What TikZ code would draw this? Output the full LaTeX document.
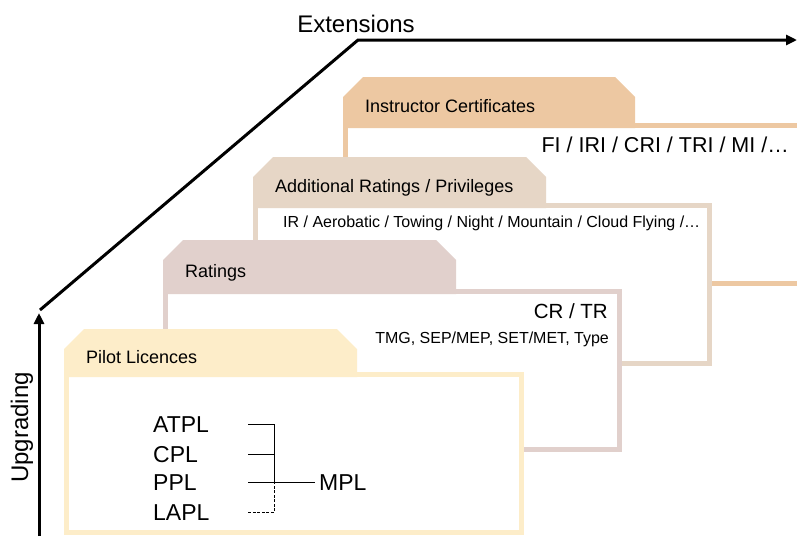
\documentclass[tikz,border=0pt]{standalone}
\usepackage{fontspec}
\setmainfont{Liberation Sans}
\usetikzlibrary{arrows.meta, positioning}

\definecolor{instrC}{HTML}{EDC8A2}
\definecolor{addlC}{HTML}{E6D6C6}
\definecolor{ratC}{HTML}{E1D0CC}
\definecolor{pilotC}{HTML}{FDEDC9}

\begin{document}
\begin{tikzpicture}[
    x=1pt, y=-1pt,
    >={Triangle[length=11pt, width=10pt]},
    axis/.style={line width=3pt},
    frame/.style={draw=#1, line width=5pt, fill=white},
    tab/.style={fill=#1},
    tabLabel/.style={font=\fontsize{18}{20}\selectfont, inner sep=0pt, anchor=base west},
    listText/.style={font=\fontsize{#1}{#1}\selectfont, inner sep=0pt},
    lic/.style={font=\fontsize{23}{26}\selectfont, inner sep=0pt, anchor=base west, text width=95pt, align=left},
    bracket/.style={line width=1.1pt}
]
\useasboundingbox (0,0) rectangle (797,536);

% ----------------------------------------------------
% Axes (Upgrading / Extensions)
% ----------------------------------------------------
\coordinate (Origin) at (39,536);
\coordinate (UpTip) at (39,313);
\coordinate (Bend) at (40,310);
\coordinate (Corner) at (358,40);
\coordinate (RightTip) at (797,40);

\draw[axis, ->] (Origin) -- (UpTip);
\draw[axis, ->] (Bend) -- (Corner) -- (RightTip);

\node[listText=24, anchor=base] (Ext) at (356,32) {Extensions};
\node[listText=24, anchor=base, rotate=90] (Upg) at (28,427.5) {Upgrading};

% ----------------------------------------------------
% Layer 4 (Instructor Certificates)
% ----------------------------------------------------
\draw[frame=instrC] (345.5,125.5) rectangle (805,283.5);
\fill[tab=instrC] (343,128) -- (343,97) -- (363,77) -- (615,77) -- (635,97) -- (635,128) -- cycle;

\node[tabLabel] (Instr) at (365,112.5) {Instructor Certificates};
\node[listText=21.5, anchor=base east] (InstrList) at (789,152) {FI / IRI / CRI / TRI / MI /…};

% ----------------------------------------------------
% Layer 3 (Additional Ratings / Privileges)
% ----------------------------------------------------
\draw[frame=addlC] (255.5,205.5) rectangle (709.5,363.5);
\fill[tab=addlC] (253,208) -- (253,177) -- (273,157) -- (526,157) -- (546,177) -- (546,208) -- cycle;

\node[tabLabel] (Addl) at (275,192) {Additional Ratings / Privileges};
\node[listText=16, anchor=base west] (AddlList) at (283,227) {IR / Aerobatic / Towing / Night / Mountain / Cloud Flying /…};

% ----------------------------------------------------
% Layer 2 (Ratings)
% ----------------------------------------------------
\draw[frame=ratC] (165.5,291.5) rectangle (619.5,449.5);
\fill[tab=ratC] (163,294) -- (163,260) -- (183,240) -- (436,240) -- (456,260) -- (456,294) -- cycle;

\node[tabLabel] (Rat) at (185,277) {Ratings};
\node[listText=20.5, anchor=base east] (RatCR) at (608,318) {CR / TR};
\node[listText=16, anchor=base east] (RatTMG) at (609,343) {TMG, SEP/MEP, SET/MET, Type};

% ----------------------------------------------------
% Layer 1 (Pilot Licences)
% ----------------------------------------------------
\draw[frame=pilotC] (66.5,374.5) rectangle (521.5,532.5);
\fill[tab=pilotC] (64,377) -- (64,349) -- (84,329) -- (337,329) -- (357,349) -- (357,377) -- cycle;

\node[tabLabel] (Pilot) at (86,363) {Pilot Licences};

\node[lic] (ATPL) at (153,432) {ATPL};
\node[lic] (CPL) at (153,462) {CPL};
\node[lic] (PPL) at (153,490) {PPL};
\node[lic] (LAPL) at (153,520) {LAPL};
\node[listText=23, inner xsep=4pt, anchor=base west] (MPL) at (315,490) {MPL};

% Bracket towards MPL
\path (PPL.east) ++(26,0) coordinate (Join);
\draw[bracket] (ATPL.east) -| (Join);
\draw[bracket] (CPL.east) -- (CPL.east -| Join);
\draw[bracket] (PPL.east) -- (MPL.west);
\draw[bracket, dash pattern=on 3pt off 1.5pt] (LAPL.east) -| (Join);

\end{tikzpicture}
\end{document}
